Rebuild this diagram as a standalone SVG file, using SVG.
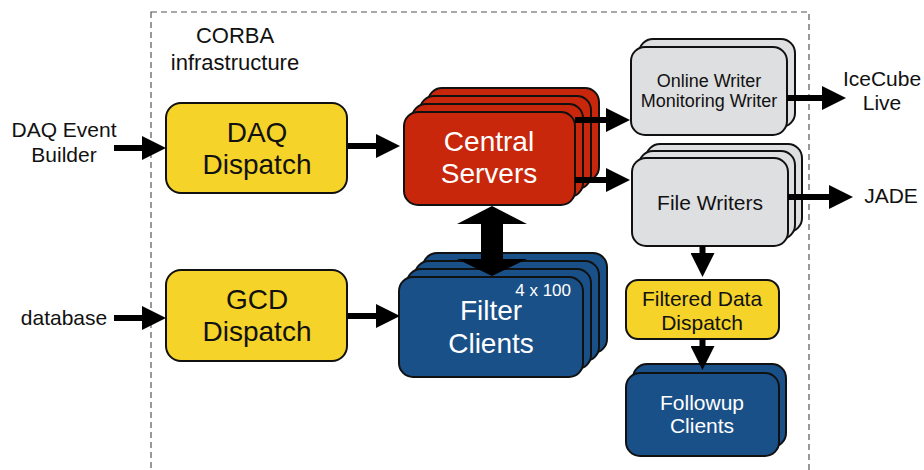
<svg xmlns="http://www.w3.org/2000/svg" width="924" height="470" viewBox="0 0 924 470">
<style>
text{font-family:"Liberation Sans",Arial,sans-serif;text-anchor:middle;fill:#111}
.w{fill:#fff}
.box{stroke:#111;stroke-width:2}
.y{fill:#F5D328}
.r{fill:#C8270B}
.b{fill:#1A5088}
.g{fill:#DEDFE1}
.arr{stroke:#000;stroke-width:6;fill:none;marker-end:url(#ah)}
</style>
<defs>
<marker id="ah" markerUnits="userSpaceOnUse" markerWidth="24" markerHeight="24" refX="12" refY="12" orient="auto">
<path d="M0,0 L24,12 L0,24 z" fill="#000"/>
</marker>
</defs>
<rect x="151" y="12" width="658" height="500" fill="none" stroke="#555" stroke-width="1.2" stroke-dasharray="6,4"/>
<g id="corba"><text x="235" y="43" font-size="22">CORBA</text><text x="235" y="70" font-size="22">infrastructure</text></g>
<g id="daq-event-builder"><text x="64" y="137" font-size="21">DAQ Event</text><text x="64" y="162" font-size="21">Builder</text></g>
<g id="database"><text x="64" y="325" font-size="21">database</text></g>
<g id="daq-dispatch"><rect class="box y" x="166" y="103" width="181" height="90" rx="15"/><text x="257" y="142" font-size="28">DAQ</text><text x="257" y="174" font-size="28">Dispatch</text></g>
<g id="gcd-dispatch"><rect class="box y" x="166" y="270" width="181" height="91" rx="15"/><text x="257" y="309" font-size="28">GCD</text><text x="257" y="341" font-size="28">Dispatch</text></g>
<g id="central-servers">
<rect class="box r" x="428" y="88" width="171" height="93" rx="14"/>
<rect class="box r" x="420" y="96" width="171" height="93" rx="14"/>
<rect class="box r" x="412" y="104" width="171" height="93" rx="14"/>
<rect class="box r" x="404" y="112" width="171" height="93" rx="14"/>
<text class="w" x="489" y="151" font-size="28">Central</text><text class="w" x="489" y="183" font-size="28">Servers</text>
</g>
<g id="filter-clients">
<rect class="box b" x="423" y="253" width="184" height="100" rx="14"/>
<rect class="box b" x="415" y="261" width="184" height="100" rx="14"/>
<rect class="box b" x="407" y="269" width="184" height="100" rx="14"/>
<rect class="box b" x="399" y="277" width="184" height="100" rx="14"/>
<text class="w" x="571" y="296" font-size="17" style="text-anchor:end">4 x 100</text>
<text class="w" x="491" y="320" font-size="28">Filter</text><text class="w" x="491" y="353" font-size="28">Clients</text>
</g>
<g id="online-writer">
<rect class="box g" x="639" y="39" width="156" height="88" rx="14"/>
<rect class="box g" x="631" y="47" width="156" height="88" rx="14"/>
<text x="709" y="87" font-size="18">Online Writer</text><text x="709" y="107" font-size="18">Monitoring Writer</text>
</g>
<g id="file-writers">
<rect class="box g" x="646" y="144" width="156" height="88" rx="14"/>
<rect class="box g" x="639" y="151" width="156" height="88" rx="14"/>
<rect class="box g" x="632" y="158" width="156" height="88" rx="14"/>
<text x="710" y="210" font-size="21">File Writers</text>
</g>
<g id="filtered-data-dispatch"><rect class="box y" x="626" y="280" width="153" height="59" rx="12"/><text x="702" y="306" font-size="21">Filtered Data</text><text x="702" y="330" font-size="21">Dispatch</text></g>
<g id="followup-clients">
<rect class="box b" x="633" y="364" width="153" height="83" rx="14"/>
<rect class="box b" x="626" y="373" width="153" height="83" rx="14"/>
<text class="w" x="702" y="410" font-size="21">Followup</text><text class="w" x="702" y="433" font-size="21">Clients</text>
</g>
<g id="icecube-live"><text x="882" y="86" font-size="21">IceCube</text><text x="882" y="110" font-size="21">Live</text></g>
<g id="jade"><text x="891" y="203" font-size="21">JADE</text></g>
<g id="connectors">
<line class="arr" x1="114" y1="148" x2="154" y2="148"/>
<line class="arr" x1="114" y1="318" x2="154" y2="318"/>
<line class="arr" x1="348" y1="146" x2="388" y2="146"/>
<line class="arr" x1="348" y1="316" x2="388" y2="316"/>
<line class="arr" x1="575" y1="120" x2="618" y2="120"/>
<line class="arr" x1="575" y1="180" x2="618" y2="180"/>
<line class="arr" x1="787" y1="98" x2="834" y2="98"/>
<line class="arr" x1="788" y1="197" x2="841" y2="197"/>
<line class="arr" x1="702.5" y1="246" x2="702.5" y2="265"/>
<line class="arr" x1="702.5" y1="339" x2="702.5" y2="358"/>
<polygon points="492,206 527,224 503,224 503,259 527,259 492,276 457,259 481,259 481,224 457,224" fill="#000"/>
</g>
</svg>
